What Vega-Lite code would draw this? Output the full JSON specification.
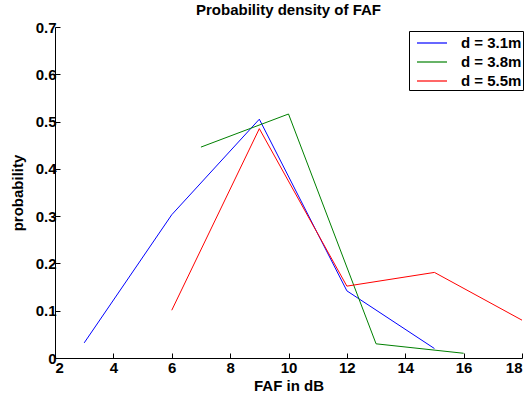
{
  "$schema": "https://vega.github.io/schema/vega-lite/v6.json",
  "width": 467,
  "height": 331,
  "autosize": {"type": "none"},
  "padding": {"left": 55, "top": 27, "right": 7, "bottom": 37},
  "background": "white",
  "title": {
    "text": "Probability density of FAF",
    "font": "Liberation Sans",
    "fontSize": 15,
    "fontWeight": "bold",
    "color": "black",
    "offset": 2,
    "anchor": "middle"
  },
  "data": {
    "values": [
      {"faf": 3, "p": 0.032, "d": "d = 3.1m"},
      {"faf": 6, "p": 0.303, "d": "d = 3.1m"},
      {"faf": 9, "p": 0.505, "d": "d = 3.1m"},
      {"faf": 12, "p": 0.142, "d": "d = 3.1m"},
      {"faf": 15, "p": 0.02, "d": "d = 3.1m"},
      {"faf": 7, "p": 0.446, "d": "d = 3.8m"},
      {"faf": 10, "p": 0.516, "d": "d = 3.8m"},
      {"faf": 13, "p": 0.03, "d": "d = 3.8m"},
      {"faf": 16, "p": 0.01, "d": "d = 3.8m"},
      {"faf": 6, "p": 0.101, "d": "d = 5.5m"},
      {"faf": 9, "p": 0.485, "d": "d = 5.5m"},
      {"faf": 12, "p": 0.152, "d": "d = 5.5m"},
      {"faf": 15, "p": 0.181, "d": "d = 5.5m"},
      {"faf": 18, "p": 0.08, "d": "d = 5.5m"}
    ]
  },
  "mark": {"type": "line", "strokeWidth": 1, "clip": false},
  "encoding": {
    "x": {
      "field": "faf",
      "type": "quantitative",
      "scale": {"domain": [2, 18], "nice": false, "zero": false},
      "axis": {
        "title": "FAF in dB",
        "values": [2, 4, 6, 8, 10, 12, 14, 16, 18],
        "grid": false,
        "tickSize": -5,
        "labelPadding": 7,
        "titlePadding": 3
      }
    },
    "y": {
      "field": "p",
      "type": "quantitative",
      "scale": {"domain": [0, 0.7], "nice": false},
      "axis": {
        "title": "probability",
        "values": [0, 0.1, 0.2, 0.3, 0.4, 0.5, 0.6, 0.7],
        "format": "~g",
        "grid": false,
        "tickSize": -5,
        "labelPadding": 4,
        "titlePadding": 10
      }
    },
    "color": {
      "field": "d",
      "type": "nominal",
      "scale": {"domain": ["d = 3.1m", "d = 3.8m", "d = 5.5m"], "range": ["#0000ff", "#008000", "#ff0000"]},
      "legend": {
        "title": null,
        "orient": "none",
        "legendX": 354,
        "legendY": 4,
        "symbolType": "M-1.5,0H1.5",
        "symbolSize": 400,
        "symbolOffset": 11,
        "symbolStrokeWidth": 1.2,
        "labelFont": "Liberation Sans",
        "labelFontSize": 15,
        "labelFontWeight": "bold",
        "labelColor": "black",
        "labelOffset": 18,
        "strokeColor": "black",
        "fillColor": "white",
        "padding": 1,
        "rowPadding": -2
      }
    }
  },
  "config": {
    "view": {"stroke": null},
    "axis": {
      "labelFont": "Liberation Sans",
      "labelFontSize": 15,
      "labelFontWeight": "bold",
      "labelColor": "black",
      "titleFont": "Liberation Sans",
      "titleFontSize": 15,
      "titleFontWeight": "bold",
      "titleColor": "black",
      "domainColor": "black",
      "tickColor": "black",
      "domainWidth": 1,
      "tickWidth": 1
    }
  }
}
